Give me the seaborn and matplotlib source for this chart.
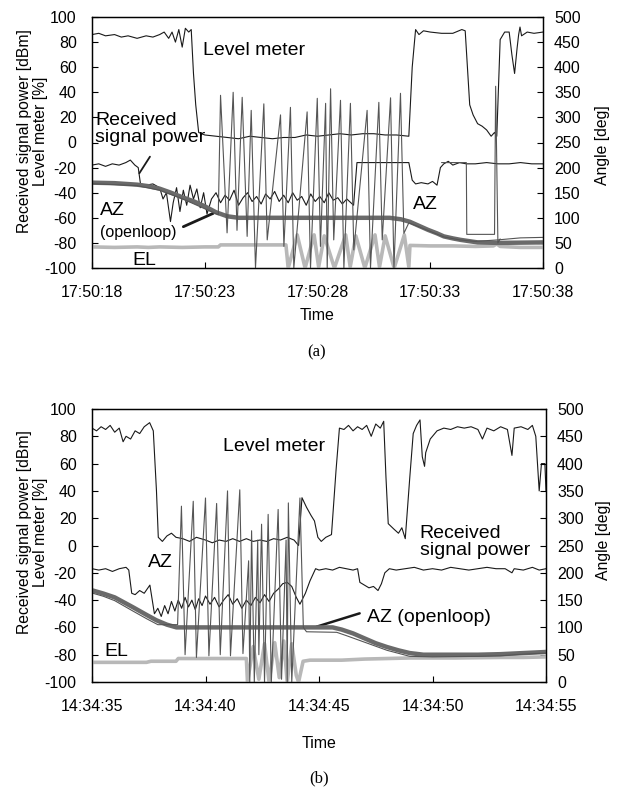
import pandas as pd
import seaborn as sns
import matplotlib.pyplot as plt

# ---- data (time in s from the first tick) ----
# panel (a): 17:50:18 - 17:50:38
ticks_a = ["17:50:18", "17:50:23", "17:50:28", "17:50:33", "17:50:38"]

# level meter [%] and received power [dBm] -> left axis
level_a = [(0, 86), (0.3, 87), (0.6, 85), (1.0, 86), (1.3, 84), (1.6, 85), (2.0, 83), (2.4, 85),
           (2.7, 84), (3.0, 86), (3.2, 88), (3.4, 83), (3.55, 88), (3.7, 80), (3.85, 90), (4.0, 76),
           (4.14, 91), (4.29, 88), (4.4, 90), (4.5, 55), (4.6, 30), (4.73, 8), (5.0, 6), (5.5, 5),
           (6.0, 4), (6.5, 3), (7.0, 5), (7.5, 4), (8.0, 3), (8.5, 4), (9.0, 4), (9.5, 6), (10.0, 5),
           (10.5, 6), (11.0, 7), (11.5, 6), (12.0, 7), (12.5, 7), (13.0, 6), (13.5, 6), (14.05, 5),
           (14.2, 60), (14.35, 90), (14.5, 86), (14.7, 89), (15.0, 88), (15.5, 87), (16.0, 87),
           (16.4, 90), (16.55, 89), (16.75, 30), (16.9, 22), (17.1, 15), (17.3, 13), (17.5, 10),
           (17.7, 5), (17.85, 8), (17.95, 5), (18.1, 82), (18.3, 88), (18.5, 88), (18.62, 70),
           (18.74, 55), (18.85, 75), (18.92, 86), (18.98, 92), (19.05, 85), (19.3, 88), (19.6, 87),
           (20.0, 88)]

power_a = [(0, -18), (0.3, -17), (0.6, -19), (0.9, -17), (1.2, -18), (1.5, -16), (1.7, -14), (1.9, -18),
           (2.05, -20), (2.15, -33), (2.4, -34), (2.7, -33), (3.0, -36), (3.15, -45), (3.3, -40),
           (3.48, -63), (3.6, -48), (3.75, -36), (3.9, -55), (4.05, -38), (4.2, -50), (4.35, -34),
           (4.5, -45), (4.65, -37), (4.8, -52), (4.95, -40), (5.1, -57), (5.3, -45), (5.5, -40),
           (5.7, -48), (5.9, -42), (6.1, -46), (6.3, -38), (6.5, -50), (6.7, -44), (6.9, -40),
           (7.1, -47), (7.3, -43), (7.5, -49), (7.7, -41), (7.9, -45), (8.1, -39), (8.3, -47),
           (8.5, -42), (8.7, -48), (8.9, -40), (9.1, -46), (9.3, -43), (9.5, -50), (9.7, -41),
           (9.9, -47), (10.1, -43), (10.3, -48), (10.5, -40), (10.7, -46), (10.9, -44), (11.1, -49),
           (11.3, -45), (11.6, -50), (11.75, -16), (12.5, -16), (13.3, -16), (14.05, -16), (14.2, -30),
           (14.35, -33), (14.6, -32), (14.9, -33), (15.1, -31), (15.3, -34), (15.45, -20), (15.6, -17),
           (15.8, -15), (16.0, -18), (16.3, -16), (16.6, -17), (17.0, -17), (17.5, -16), (18.0, -17),
           (18.5, -17), (19.0, -16), (19.5, -17), (20.0, -17)]

# angles [deg] -> right axis
az_open_a = [(0, 170), (1, 169), (2, 166), (2.5, 163), (3, 158), (3.5, 150), (4, 141), (4.5, 133),
             (5, 123), (5.5, 111), (6, 103), (6.5, 100), (13.2, 100), (13.7, 97), (14.1, 92),
             (14.5, 84), (14.9, 76), (15.3, 69), (15.6, 63), (16.0, 59), (16.35, 56), (17.1, 51),
             (18, 50), (20, 51)]

az_a = [(0, 168), (2, 164), (3, 155), (4, 138), (5, 118), (5.6, 106), (5.7, 344), (5.99, 70),
        (6.26, 350), (6.43, 75), (6.66, 340), (6.88, 63), (7.06, 314), (7.25, 0), (7.62, 327),
        (7.77, 56), (8.36, 305), (8.51, 43), (8.8, 320), (8.95, 0), (9.54, 311), (9.69, 0),
        (9.99, 338), (10.13, 43), (10.36, 328), (10.43, 0), (10.58, 357), (10.72, 56), (11.02, 334),
        (11.17, 0), (11.46, 328), (11.61, 36), (12.2, 314), (12.35, 0), (12.72, 330), (12.87, 56),
        (13.24, 339), (13.39, 0), (13.68, 348), (13.83, 69), (14.05, 90), (14.5, 82), (15, 73),
        (15.6, 62), (16.3, 56), (17, 53), (18, 56), (19, 60), (20, 61)]

az_a_tail = [(15.5, 210), (16.6, 210), (16.62, 67), (17.85, 67), (17.9, 362), (18.0, 50), (18.1, 58)]

el_a = [(0, 42), (1, 41), (2, 42), (2.5, 41), (3, 42), (4, 41), (5, 42), (5.6, 42), (5.7, 46), (7, 46),
        (8.6, 46), (8.7, 0), (9.1, 66), (9.45, 0), (9.85, 66), (10.05, 2), (10.3, 64), (10.75, 0),
        (11.25, 66), (11.45, 2), (11.7, 64), (12.1, 0), (12.55, 66), (12.75, 2), (13.0, 64),
        (13.4, 0), (13.85, 66), (14.05, 2), (14.1, 45), (15, 44), (16, 44), (17, 43), (17.8, 44),
        (17.95, 48), (18.1, 43), (19, 41), (20, 41)]

# panel (b): 14:34:35 - 14:34:55
ticks_b = ["14:34:35", "14:34:40", "14:34:45", "14:34:50", "14:34:55"]

level_b = [(0, 86), (0.2, 84), (0.4, 87), (0.6, 85), (0.8, 88), (1.0, 83), (1.2, 86), (1.37, 76),
           (1.5, 80), (1.7, 78), (1.9, 84), (2.1, 82), (2.3, 87), (2.54, 90), (2.7, 84), (2.84, 40),
           (2.92, 6), (3.1, 3), (3.3, 7), (3.5, 9), (3.7, 6), (4.0, 5), (4.3, 3), (4.6, 6), (5.0, 4),
           (5.3, 2), (5.6, 4), (5.9, 3), (6.2, 5), (6.5, 3), (6.8, 5), (7.1, 3), (7.4, 4), (7.7, 3),
           (8.0, 5), (8.3, 4), (8.6, 6), (8.9, 4), (9.1, 0), (9.25, 35), (9.45, 28), (9.65, 22),
           (9.8, 18), (9.95, 6), (10.1, 3), (10.3, 6), (10.55, 8), (10.75, 55), (10.9, 86),
           (11.1, 85), (11.3, 88), (11.5, 84), (11.7, 87), (11.9, 85), (12.1, 88), (12.3, 80),
           (12.5, 89), (12.7, 86), (12.85, 91), (12.95, 50), (13.05, 16), (13.3, 12), (13.5, 9),
           (13.65, 13), (13.8, 5), (14.0, 50), (14.15, 82), (14.3, 88), (14.45, 92), (14.55, 65),
           (14.65, 58), (14.7, 68), (14.9, 78), (15.2, 84), (15.5, 86), (15.8, 85), (16.1, 87),
           (16.4, 86), (16.7, 87), (17.0, 85), (17.2, 78), (17.4, 86), (17.7, 84), (18.0, 87),
           (18.3, 85), (18.5, 66), (18.6, 86), (18.9, 87), (19.2, 85), (19.4, 88), (19.55, 80),
           (19.7, 40), (19.8, 60), (19.95, 60), (20, 40)]

power_b = [(0, -17), (0.3, -18), (0.6, -17), (0.9, -19), (1.2, -17), (1.5, -16), (1.62, -18),
           (1.75, -35), (1.9, -36), (2.1, -33), (2.3, -35), (2.55, -29), (2.75, -50), (2.9, -46),
           (3.05, -52), (3.2, -44), (3.35, -50), (3.5, -41), (3.65, -48), (3.8, -40), (3.95, -46),
           (4.1, -38), (4.25, -45), (4.4, -40), (4.55, -47), (4.7, -39), (4.85, -44), (5.0, -37),
           (5.2, -43), (5.4, -38), (5.6, -45), (5.8, -40), (6.0, -36), (6.2, -43), (6.4, -39),
           (6.6, -46), (6.8, -40), (7.0, -44), (7.2, -38), (7.4, -42), (7.6, -36), (7.8, -41),
           (8.0, -35), (8.2, -32), (8.4, -28), (8.6, -27), (8.8, -30), (9.0, -38), (9.16, -43),
           (9.4, -35), (9.6, -26), (9.85, -17), (10.0, -18), (10.3, -17), (10.6, -18), (10.9, -16),
           (11.2, -17), (11.5, -18), (11.7, -17), (11.8, -27), (12.0, -29), (12.2, -31), (12.4, -30),
           (12.6, -33), (12.75, -28), (12.9, -20), (13.1, -17), (13.4, -18), (13.8, -17), (14.2, -16),
           (14.6, -18), (15.0, -17), (15.4, -18), (15.8, -16), (16.2, -17), (16.6, -18), (17.0, -17),
           (17.4, -16), (17.8, -17), (18.2, -17), (18.5, -20), (18.6, -17), (19.0, -18), (19.4, -16),
           (19.7, -18), (20.0, -17)]

az_open_b = [(0, 168), (0.5, 162), (1, 155), (1.8, 137), (2.4, 123), (2.84, 113), (3.3, 105),
             (3.72, 100), (10.6, 100), (11, 96), (11.5, 89), (12, 80), (12.5, 71), (13, 64),
             (13.5, 58), (14, 53), (14.6, 50), (16, 50), (17, 50), (18, 51), (19, 53), (20, 55)]

az_b = [(0, 163), (0.5, 157), (1, 149), (1.8, 130), (2.4, 116), (2.9, 105), (3.77, 105), (3.94, 322),
        (4.1, 50), (4.46, 331), (4.6, 45), (5.0, 337), (5.15, 48), (5.49, 327), (5.65, 50),
        (5.97, 350), (6.1, 48), (6.51, 352), (6.65, 52), (6.9, 222), (6.95, 0), (7.03, 277),
        (7.15, 0), (7.3, 260), (7.35, 50), (7.47, 289), (7.6, 0), (7.76, 307), (7.9, 0), (8.2, 316),
        (8.35, 5), (8.55, 260), (8.6, 0), (8.65, 328), (8.8, 0), (9.16, 337), (9.31, 100),
        (9.45, 92), (10.78, 91), (11.2, 85), (12, 73), (13, 58), (14, 47), (15, 46), (17, 47),
        (18, 48), (19, 51), (20, 53)]

el_b = [(0, 36), (2.4, 36), (2.6, 38), (3.7, 38), (3.8, 43), (6.8, 43), (6.85, 0), (7.1, 65),
        (7.35, 5), (7.6, 70), (7.8, 0), (8.05, 72), (8.25, 8), (8.45, 75), (8.6, 0), (8.8, 70),
        (9.0, 12), (9.1, 0), (9.3, 38), (9.6, 40), (11, 40), (12, 42), (14, 44), (16, 44),
        (18, 45), (19, 45), (20, 46)]

# ---- style ----
sns.set_theme(style="ticks")
plt.rcParams['font.family'] = ['Liberation Sans', 'DejaVu Sans']
plt.rcParams['axes.unicode_minus'] = False
plt.rcParams['text.color'] = 'black'
plt.rcParams['axes.labelcolor'] = 'black'
plt.rcParams['xtick.color'] = 'black'
plt.rcParams['ytick.color'] = 'black'

BLACK = "#1a1a1a"
AZ_THIN = "#555555"
AZ_THICK = "#6a6a6a"
EL_COL = "#b8b8b8"


def line(ax, pts, color, lw):
    d = pd.DataFrame(pts, columns=["t", "v"])
    sns.lineplot(data=d, x="t", y="v", ax=ax, color=color, linewidth=lw,
                 estimator=None, sort=False, legend=False)


def panel(rect, ticks, level, power, az_open, az, el, extra=None):
    ax = fig.add_axes(rect)
    ax2 = ax.twinx()
    line(ax, level, BLACK, 0.8)
    line(ax, power, BLACK, 0.8)
    line(ax2, el, EL_COL, 2.6)
    line(ax2, az_open, AZ_THICK, 3.2)
    line(ax2, az, AZ_THIN, 0.8)
    if extra is not None:
        line(ax2, extra, AZ_THIN, 0.8)
    ax.set_xlim(0, 20)
    ax.set_ylim(-100, 100)
    ax2.set_ylim(0, 500)
    ax.set_xticks([0, 5, 10, 15, 20])
    ax.set_xticklabels(ticks)
    ax.set_yticks(range(-100, 101, 20))
    ax2.set_yticks(range(0, 501, 50))
    ax.set_xlabel("")
    ax.set_ylabel("Received signal power [dBm]\nLevel meter [%]", fontsize=11.3, linespacing=1.05)
    ax2.set_ylabel("Angle [deg]", fontsize=11.3)
    for a in (ax, ax2):
        a.tick_params(direction="in", length=4, width=0.8, labelsize=11.5, color="black")
        for s in a.spines.values():
            s.set_color("black")
            s.set_linewidth(0.9)
        a.set_facecolor("none")
    ax.tick_params(axis="y", pad=11)
    ax.tick_params(axis="x", pad=12.5)
    ax2.tick_params(axis="y", pad=8)
    ax.tick_params(right=False, top=False)
    return ax, ax2


fig = plt.figure(figsize=(6.27, 7.9), dpi=100)
W, H = 627, 790

# panel (a)
ax, ax2 = panel([92 / W, 1 - 268 / H, 451 / W, 251 / H], ticks_a, level_a, power_a,
                az_open_a, az_a, el_a, az_a_tail)
ax.yaxis.set_label_coords(-0.098, 0.545)
ax2.yaxis.set_label_coords(1.115, 0.49)
ax.text(4.92, 73.7, "Level meter", fontsize=14, va="center")
ax.text(0.13, 10.8, "Received\nsignal power", fontsize=14, va="center", linespacing=1.0)
ax.plot([2.57, 2.1], [-11.3, -24.5], color=BLACK, lw=1.3)
ax.text(0.35, -53.8, "AZ", fontsize=14, va="center")
ax.text(0.35, -72, "(openloop)", fontsize=11.5, va="center")
ax.plot([4.05, 5.38], [-67.1, -56.4], color=BLACK, lw=2)
ax.text(14.23, -49.8, "AZ", fontsize=14, va="center")
ax.text(1.77, -94.4, "EL", fontsize=14, va="center")
fig.text(317 / W, 1 - 316 / H, "Time", ha="center", va="center", fontsize=11.5)
fig.text(317 / W, 1 - 352 / H, "(a)", ha="center", va="center", fontsize=12,
         family=["Liberation Serif", "DejaVu Serif"])

# panel (b)
bx, bx2 = panel([92 / W, 1 - 682 / H, 454 / W, 273 / H], ticks_b, level_b, power_b,
                az_open_b, az_b, el_b)
bx.yaxis.set_label_coords(-0.097, 0.55)
bx2.yaxis.set_label_coords(1.11, 0.52)
bx.text(5.76, 72.2, "Level meter", fontsize=14, va="center")
bx.text(14.44, 2.6, "Received\nsignal power", fontsize=14, va="center", linespacing=1.0)
bx.text(2.45, -12.1, "AZ", fontsize=14, va="center")
bx.text(12.1, -52.4, "AZ (openloop)", fontsize=14, va="center")
bx.plot([9.89, 11.79], [-59.5, -49.7], color=BLACK, lw=1.8)
bx.text(0.56, -78, "EL", fontsize=14, va="center")
fig.text(319 / W, 1 - 743 / H, "Time", ha="center", va="center", fontsize=11.5)
fig.text(319 / W, 1 - 778 / H, "(b)", ha="center", va="center", fontsize=12,
         family=["Liberation Serif", "DejaVu Serif"])

fig.savefig("out.png", dpi=100)
